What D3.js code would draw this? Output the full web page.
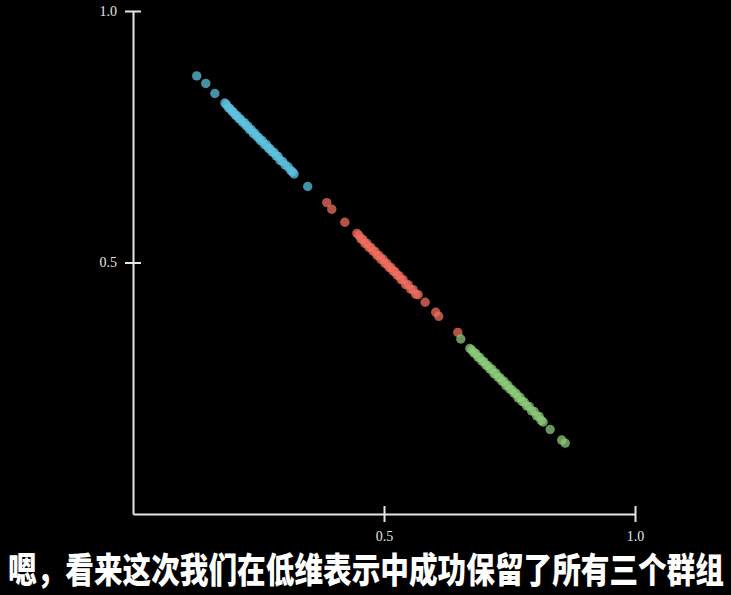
<!DOCTYPE html>
<html>
<head>
<meta charset="utf-8">
<script src="https://cdn.jsdelivr.net/npm/d3@7"></script>
<style>
  html, body { margin: 0; padding: 0; background: #000; }
  #chart { width: 731px; height: 595px; }
</style>
</head>
<body>
<div id="chart"></div>
<script>
// cluster values
const blueX = [0.127,0.145,0.163,0.183,0.186,0.190,0.193,0.197,0.200,0.204,0.207,0.211,0.214,0.218,0.222,0.225,0.229,0.232,0.236,0.240,0.243,0.247,0.251,0.254,0.258,0.262,0.266,0.270,0.273,0.277,0.281,0.285,0.289,0.293,0.298,0.303,0.309,0.314,0.318,0.321,0.348];
const blueY = [0.871,0.856,0.836,0.817,0.814,0.808,0.806,0.801,0.799,0.793,0.792,0.786,0.785,0.779,0.778,0.772,0.771,0.764,0.764,0.756,0.757,0.750,0.748,0.742,0.742,0.734,0.734,0.727,0.726,0.720,0.719,0.712,0.711,0.703,0.701,0.694,0.690,0.683,0.680,0.676,0.651];

const redX = [0.386,0.396,0.422,0.446,0.450,0.454,0.458,0.462,0.466,0.470,0.474,0.478,0.482,0.486,0.490,0.494,0.498,0.502,0.506,0.510,0.514,0.518,0.522,0.526,0.530,0.534,0.538,0.543,0.548,0.553,0.558,0.563,0.568,0.582,0.603,0.609,0.647];
const redY = [0.619,0.606,0.580,0.558,0.554,0.547,0.546,0.538,0.538,0.530,0.530,0.523,0.522,0.514,0.514,0.506,0.507,0.498,0.498,0.490,0.490,0.483,0.482,0.475,0.474,0.466,0.466,0.456,0.456,0.447,0.446,0.437,0.436,0.421,0.401,0.393,0.361];

const greenX = [0.653,0.671,0.675,0.679,0.683,0.687,0.691,0.695,0.699,0.703,0.707,0.711,0.715,0.719,0.723,0.727,0.731,0.735,0.739,0.743,0.747,0.751,0.755,0.759,0.763,0.767,0.771,0.775,0.779,0.784,0.789,0.794,0.799,0.804,0.809,0.813,0.817,0.831,0.854,0.861];
const greenY = [0.348,0.329,0.326,0.320,0.319,0.312,0.311,0.304,0.303,0.296,0.295,0.288,0.288,0.279,0.280,0.272,0.271,0.264,0.264,0.255,0.256,0.248,0.247,0.240,0.240,0.231,0.232,0.224,0.223,0.215,0.214,0.205,0.204,0.195,0.194,0.186,0.183,0.168,0.147,0.141];

const ticks = [0.5, 1.0];
const subtitle = "嗯，看来这次我们在低维表示中成功保留了所有三个群组";

const width = 731,
      height = 595;

const svg = d3.select("#chart")
    .append("svg")
    .attr("width", width)
    .attr("height", height)
    .style("background", "#000");

const x = d3.scaleLinear().domain([0, 1]).range([133, 635]);
const y = d3.scaleLinear().domain([0, 1]).range([514, 11]);

const axisColor = "#e6e6e6";

// axes: ticks cross the axis line on both sides
const xAxis = svg.append("g")
    .attr("transform", `translate(0,${y(0)})`)
    .call(d3.axisBottom(x).tickValues(ticks).tickSizeOuter(0).tickFormat(d3.format(".1f")));
const yAxis = svg.append("g")
    .attr("transform", `translate(${x(0)},0)`)
    .call(d3.axisLeft(y).tickValues(ticks).tickSizeOuter(0).tickFormat(d3.format(".1f")));

[xAxis, yAxis].forEach(g => {
    g.select(".domain").attr("stroke", axisColor).attr("stroke-width", 2);
    g.selectAll(".tick line").attr("stroke", axisColor).attr("stroke-width", 2);
    g.selectAll(".tick text")
        .attr("fill", axisColor)
        .style("font-family", "'Liberation Serif', 'DejaVu Serif', serif")
        .style("font-size", "14px");
});
xAxis.selectAll(".tick line").attr("y1", -8).attr("y2", 8);
xAxis.selectAll(".tick text").attr("y", 17);
yAxis.selectAll(".tick line").attr("x1", -8).attr("x2", 8);
yAxis.selectAll(".tick text").attr("x", -16);

const groups = [
    { xs: blueX, ys: blueY, color: "#5ec2e0" },
    { xs: redX, ys: redY, color: "#f26f5e" },
    { xs: greenX, ys: greenY, color: "#8dca7b" }
];

groups.forEach(grp => {
    svg.append("g")
        .selectAll("circle")
        .data(grp.xs.map((v, i) => ({ x: v, y: grp.ys[i] })))
        .enter().append("circle")
        .attr("cx", d => x(d.x))
        .attr("cy", d => y(d.y))
        .attr("r", 4.7)
        .attr("fill", grp.color)
        .attr("fill-opacity", 0.74);
});

// subtitle
svg.append("text")
    .attr("x", 366)
    .attr("y", 0)
    .attr("text-anchor", "middle")
    .attr("transform", "translate(0,583) scale(1,1.22)")
    .attr("textLength", 716)
    .attr("lengthAdjust", "spacingAndGlyphs")
    .style("font-family", "'Noto Sans CJK SC', sans-serif")
    .style("font-weight", 900)
    .style("font-size", "29px")
    .attr("fill", "#fff")
    .attr("stroke", "#000")
    .attr("stroke-width", 1.5)
    .attr("paint-order", "stroke")
    .text(subtitle);
</script>
</body>
</html>
